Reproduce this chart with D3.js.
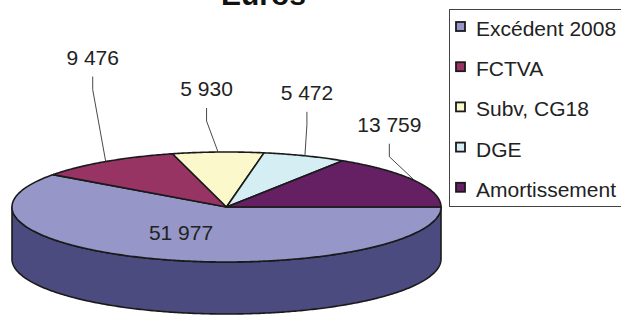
<!DOCTYPE html>
<html><head><meta charset="utf-8">
<script src="https://cdn.jsdelivr.net/npm/d3@7"></script>
<style>html,body{margin:0;padding:0;background:#fff;}svg{display:block;}</style>
</head><body>
<svg id="c" width="621" height="315"></svg>
<script>
const title = "Euros";
const categories = ["Excédent 2008", "FCTVA", "Subv, CG18", "DGE", "Amortissement"];
const values = [51977, 9476, 5930, 5472, 13759];
const valueLabels = ["51 977", "9 476", "5 930", "5 472", "13 759"];

const topColors = ["#9696c8", "#983464", "#fbf8cc", "#d4eef4", "#651f63"];
const sideColors = ["#4b4b7f", "#5c1f3c", "#97957a", "#80909a", "#3c123b"];
// label baseline offsets relative to slice edge point (layout only)
const labelOffsets = [null, [-13, -97], [-11.5, -56], [2, -56], [-25.5, -49]];

const svg = d3.select("#c");
const cx = 226.5, cy = 207, rx = 214.5, ry = 55, depth = 52;
const proj = (a, f = 1, dy = 0) => [cx + rx * f * Math.sin(a), cy - ry * f * Math.cos(a) + dy];

const pie = d3.pie().sort(null).startAngle(Math.PI / 2).endAngle(Math.PI / 2 + 2 * Math.PI);
const arcs = pie(values);

function arcPts(a0, a1, dy = 0) {
  const n = Math.max(2, Math.ceil(Math.abs(a1 - a0) / 0.01));
  return d3.range(n + 1).map(i => proj(a0 + (a1 - a0) * i / n, 1, dy));
}
const line = d3.line();

// sides (front half: angles between PI/2 and 3PI/2)
const gSide = svg.append("g");
arcs.forEach((d, i) => {
  const s = Math.max(d.startAngle, Math.PI / 2), e = Math.min(d.endAngle, 3 * Math.PI / 2);
  if (e <= s) return;
  const pts = arcPts(s, e).concat(arcPts(e, s, depth));
  gSide.append("path").attr("d", line(pts) + "Z")
    .attr("fill", sideColors[i]).attr("stroke", "#1a1a1a").attr("stroke-width", 1.6)
    .attr("stroke-linejoin", "round");
});

// top slices
const gTop = svg.append("g");
arcs.forEach((d, i) => {
  const pts = [[cx, cy]].concat(arcPts(d.startAngle, d.endAngle));
  gTop.append("path").attr("d", line(pts) + "Z")
    .attr("fill", topColors[i]).attr("stroke", "#1a1a1a").attr("stroke-width", 1.6)
    .attr("stroke-linejoin", "round");
});

// labels
const font = "'Liberation Sans', Arial, sans-serif";
arcs.forEach((d, i) => {
  const mid = (d.startAngle + d.endAngle) / 2;
  if (!labelOffsets[i]) {
    svg.append("text").attr("x", 181).attr("y", 240).attr("text-anchor", "middle")
      .attr("font-family", font).attr("font-size", 21).attr("fill", "#222").text(valueLabels[i]);
    return;
  }
  const [ex, ey] = proj(mid);
  const lx = ex + labelOffsets[i][0], ly = ey + labelOffsets[i][1];
  svg.append("text").attr("x", lx).attr("y", ly).attr("text-anchor", "middle")
    .attr("font-family", font).attr("font-size", 21).attr("fill", "#222").text(valueLabels[i]);
  const elbowY = Math.min(ly + 25, ey - 2);
  svg.append("path").attr("d", line([[lx, ly + 12], [lx, elbowY], [ex, ey]]))
    .attr("fill", "none").attr("stroke", "#333").attr("stroke-width", 0.9);
});

// title (cut off at the top edge, as in the reference)
svg.append("text").attr("x", 263.5).attr("y", 5).attr("text-anchor", "middle")
  .attr("font-family", font).attr("font-weight", "bold").attr("font-size", 30).attr("fill", "#111").text(title);

// legend
const lg = svg.append("g");
lg.append("rect").attr("x", 449.5).attr("y", 9.5).attr("width", 200).attr("height", 197)
  .attr("fill", "#fff").attr("stroke", "#444").attr("stroke-width", 1);
const ly0 = 26.5, lstep = 40.2;
categories.forEach((c, i) => {
  const y = ly0 + i * lstep;
  lg.append("rect").attr("x", 456).attr("y", y - 4.5).attr("width", 9).attr("height", 9)
    .attr("fill", topColors[i]).attr("stroke", "#1a1a1a").attr("stroke-width", 1.8);
  lg.append("text").attr("x", 476).attr("y", y + 9.5).attr("font-family", font).attr("font-size", 21)
    .attr("fill", "#222").text(c);
});
</script>
</body></html>
